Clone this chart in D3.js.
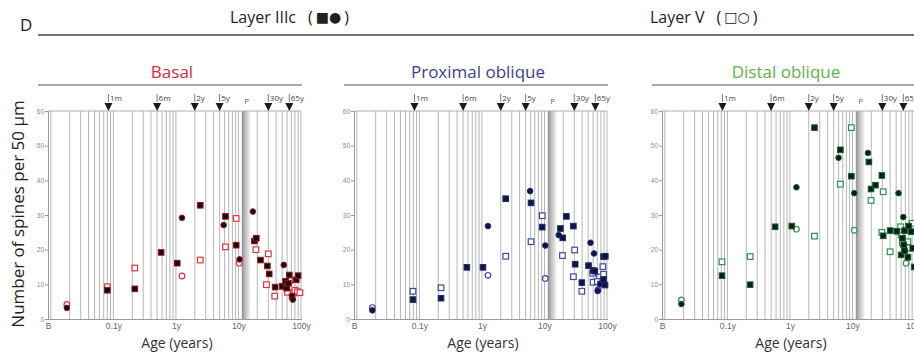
<!DOCTYPE html>
<html>
<head>
<meta charset="utf-8">
<script src="https://cdn.jsdelivr.net/npm/d3@7"></script>
<style>
  body { margin: 0; background: #fff; }
  svg { display: block; font-family: "Open Sans", "Noto Sans", sans-serif; }
</style>
</head>
<body>
<svg id="chart" width="914" height="354"></svg>
<script>
// ---- data (age in years, spines per 50 um) ----
const yTickValues = [0, 10, 20, 30, 40, 50, 60];
const xTickAges = [0.009, 0.1, 1, 10, 100];
const xTickLabels = ['B', '0.1y', '1y', '10y', '100y'];
const milestoneAges = [1 / 12, 0.5, 2, 5, 30, 65];
const milestoneLabels = ['1m', '6m', '2y', '5y', '30y', '65y'];
const pubertyAge = 13.5;

const basalIIIcSquares = [[0.08, 8.3], [0.22, 8.7], [0.58, 19.2], [1.05, 16.1], [2.45, 32.8], [6.2, 29.6],
  [9.2, 21.3], [18, 22.5], [19.3, 23.3], [22.5, 17.0], [29, 15.3], [31, 13.0], [38.6, 9.2], [50, 9.4],
  [56.6, 10.9], [59, 8.9], [63, 10.3], [65, 12.7], [72, 6.5], [84, 11.3], [90, 12.5]];
const basalIIIcCircles = [[0.018, 3.2], [1.25, 29.2], [5.8, 27.1], [10.4, 17.2], [17, 31.0], [53, 15.6], [74, 5.6]];
const basalVSquares = [[0.08, 9.3], [0.22, 14.7], [2.45, 17.0], [6.2, 20.8], [9.2, 29.0], [19, 20.0], [30, 18.8],
  [28, 9.9], [38, 6.6], [61, 7.7], [66, 11.1], [77, 7.5], [80, 8.3], [88, 7.9], [96, 7.6]];
const basalVCircles = [[0.018, 4.2], [1.25, 12.4], [10.3, 16.1]];

const proxIIIcSquares = [[0.079, 5.6], [0.222, 6.0], [0.574, 14.9], [1.04, 14.9], [2.4, 34.7], [6.1, 33.5],
  [9.2, 26.5], [18, 26.1], [19.6, 23.4], [22.4, 29.6], [29, 26.8], [31, 15.8], [39.6, 10.5], [50.6, 15.4],
  [60, 14.0], [64, 13.8], [79, 10.1], [88, 11.4], [88, 18.0], [94, 18.1], [93, 9.8]];
const proxIIIcCircles = [[0.0177, 2.5], [1.25, 26.8], [5.9, 36.9], [10.3, 21.2], [16.9, 24.2], [54.5, 22.0],
  [62, 18.9], [71, 8.1]];
const proxVSquares = [[0.079, 8.0], [0.222, 9.0], [2.4, 18.1], [6.1, 22.3], [9.2, 29.8], [19.4, 18.3],
  [30.4, 19.9], [29, 12.2], [39.6, 8.0], [59, 13.2], [60, 10.6], [76, 12.1], [86, 15.1], [88, 12.9], [70, 10.8]];
const proxVCircles = [[0.0177, 3.3], [1.25, 12.6], [10.3, 11.7], [72, 8.4]];

const distIIIcSquares = [[0.082, 12.5], [0.231, 9.9], [0.58, 26.6], [1.07, 26.8], [2.47, 55.2], [6.4, 48.8],
  [9.6, 41.2], [18.3, 45.3], [19.8, 37.5], [23.3, 38.6], [29.5, 41.4], [31, 24.0], [40, 25.5], [51, 25.3],
  [60, 18.5], [63, 23.3], [66, 21.4], [68, 25.5], [68, 19.7], [77, 17.8], [79, 26.8], [87, 25.2], [92, 20.4], [97, 15.0]];
const distIIIcCircles = [[0.0184, 4.3], [1.27, 38.0], [6.0, 46.5], [10.7, 36.3], [17.7, 47.9], [54.5, 36.3], [65, 29.4]];
const distVSquares = [[0.082, 16.5], [0.231, 18.0], [2.47, 23.9], [6.4, 38.9], [9.6, 55.2], [19.8, 34.2],
  [31, 36.7], [29.5, 25.0], [40, 19.4], [59, 26.6], [60, 24.2], [63, 22.0], [77, 22.3], [80, 20.5], [90, 27.6]];
const distVCircles = [[0.0184, 5.5], [1.27, 25.9], [10.7, 25.6], [72, 16.1]];

// ---- layout ----
const plotTop = 111, plotBottom = 319, plotWidth = 253;
const gridColor = '#aeaeae';

const svg = d3.select('#chart');

const defs = svg.append('defs');
const grad = defs.append('linearGradient').attr('id', 'band').attr('x1', 0).attr('x2', 1);
grad.append('stop').attr('offset', 0).attr('stop-color', '#8e8e8e');
grad.append('stop').attr('offset', 0.4).attr('stop-color', '#bdbdbd');
grad.append('stop').attr('offset', 1).attr('stop-color', '#f3f3f3');

// header
svg.append('text').attr('x', 20).attr('y', 31).style('font-size', '17px').attr('fill', '#222').text('D');
svg.append('line').attr('x1', 38).attr('x2', 914).attr('y1', 35).attr('y2', 35)
  .attr('stroke', '#444').attr('stroke-width', 1.3);

function layerTitle(x, label, symbols) {
  const t = svg.append('text').attr('x', x).attr('y', 23).style('font-size', '16px').attr('fill', '#222');
  t.append('tspan').text(label);
  t.append('tspan').attr('dx', 12).text('(');
  t.append('tspan').attr('dx', 3).style('font-size', '14px').attr('dy', -1)
    .attr('font-family', '"DejaVu Sans", sans-serif').text(symbols);
  t.append('tspan').attr('dx', 3).attr('dy', 1).text(')');
}
layerTitle(230, 'Layer IIIc', '■●');
layerTitle(650, 'Layer V', '□○');

// y axis label
svg.append('text')
  .attr('transform', 'translate(24,214) rotate(-90)')
  .attr('text-anchor', 'middle')
  .style('font-size', '17px')
  .attr('fill', '#222')
  .text('Number of spines per 50 μm');

function drawPanel(left, title, colors, series) {
  const x = d3.scaleLog().domain([0.009, 100]).range([left, left + plotWidth]);
  const y = d3.scaleLinear().domain([0, 60]).range([plotBottom, plotTop]);
  const g = svg.append('g');

  g.append('text')
    .attr('x', left + 124).attr('y', 78)
    .attr('text-anchor', 'middle')
    .style('font-size', '17px')
    .attr('fill', colors.title)
    .text(title);
  g.append('line')
    .attr('x1', left - 10).attr('x2', left + plotWidth + 1)
    .attr('y1', 85).attr('y2', 85)
    .attr('stroke', '#555').attr('stroke-width', 1.2);

  // puberty band
  g.append('rect')
    .attr('x', x(11.3)).attr('width', x(15.5) - x(11.3))
    .attr('y', plotTop).attr('height', plotBottom - plotTop)
    .attr('fill', 'url(#band)');

  // log grid
  const gridAges = x.ticks().filter(d => d > 0.0095);
  g.append('g').selectAll('line')
    .data(gridAges)
    .join('line')
    .attr('x1', d => x(d)).attr('x2', d => x(d))
    .attr('y1', plotTop).attr('y2', plotBottom)
    .attr('stroke', gridColor).attr('stroke-width', 0.9);
  g.append('line')
    .attr('x1', left).attr('x2', left + plotWidth)
    .attr('y1', plotTop).attr('y2', plotTop)
    .attr('stroke', gridColor).attr('stroke-width', 1);

  // axes
  const yAxis = g.append('g')
    .attr('transform', `translate(${left},0)`)
    .call(d3.axisLeft(y).tickValues(yTickValues).tickSize(3).tickPadding(1));
  yAxis.selectAll('text').style('font-size', '6.5px').attr('fill', '#8a8a8a');

  const xAxis = g.append('g')
    .attr('transform', `translate(0,${plotBottom})`)
    .call(d3.axisBottom(x).tickValues(xTickAges).tickFormat((d, i) => xTickLabels[i]).tickSize(1).tickPadding(3));
  xAxis.selectAll('text').style('font-size', '8.5px').attr('fill', '#666');

  [yAxis, xAxis].forEach(a => {
    a.select('.domain').attr('stroke', '#999');
    a.selectAll('.tick line').attr('stroke', '#999');
  });

  g.append('text')
    .attr('x', left + 129).attr('y', 348)
    .attr('text-anchor', 'middle')
    .style('font-size', '14px')
    .attr('fill', '#333')
    .text('Age (years)');

  // milestones
  const ms = g.append('g').selectAll('g')
    .data(milestoneAges)
    .join('g')
    .attr('transform', d => `translate(${x(d)},${plotTop})`);
  ms.append('path').attr('d', 'M-4,-8L4,-8L0,0Z').attr('fill', '#1a1a1a');
  ms.append('line').attr('x1', 0).attr('x2', 0).attr('y1', -17).attr('y2', -9)
    .attr('stroke', '#444').attr('stroke-width', 0.7);
  ms.append('text').attr('x', 1.5).attr('y', -10.5)
    .style('font-size', '8px').attr('fill', '#444')
    .text((d, i) => milestoneLabels[i]);
  g.append('text')
    .attr('x', x(pubertyAge)).attr('y', plotTop - 7)
    .attr('text-anchor', 'middle')
    .style('font-size', '8px').attr('fill', '#666')
    .text('P');

  // markers: layer V (open) first, then layer IIIc (filled)
  const side = 5.6, r = 2.8;
  g.append('g').selectAll('rect')
    .data(series.vSquares).join('rect')
    .attr('x', d => x(d[0]) - side / 2).attr('y', d => y(d[1]) - side / 2)
    .attr('width', side).attr('height', side)
    .attr('fill', '#fff').attr('stroke', colors.open).attr('stroke-width', 1.2);
  g.append('g').selectAll('circle')
    .data(series.vCircles).join('circle')
    .attr('cx', d => x(d[0])).attr('cy', d => y(d[1])).attr('r', r)
    .attr('fill', '#fff').attr('stroke', colors.open).attr('stroke-width', 1.2);
  g.append('g').selectAll('rect')
    .data(series.iiicSquares).join('rect')
    .attr('x', d => x(d[0]) - side / 2).attr('y', d => y(d[1]) - side / 2)
    .attr('width', side).attr('height', side)
    .attr('fill', colors.fill).attr('stroke', colors.edge).attr('stroke-width', 1);
  g.append('g').selectAll('circle')
    .data(series.iiicCircles).join('circle')
    .attr('cx', d => x(d[0])).attr('cy', d => y(d[1])).attr('r', r)
    .attr('fill', colors.fill).attr('stroke', colors.edge).attr('stroke-width', 1);
}

drawPanel(48, 'Basal',
  {title: '#d92b3c', open: '#e0323f', fill: '#1c0606', edge: '#8c1a22'},
  {iiicSquares: basalIIIcSquares, iiicCircles: basalIIIcCircles, vSquares: basalVSquares, vCircles: basalVCircles});
drawPanel(354, 'Proximal oblique',
  {title: '#3b3f93', open: '#3e4b9c', fill: '#0f1540', edge: '#1f2a72'},
  {iiicSquares: proxIIIcSquares, iiicCircles: proxIIIcCircles, vSquares: proxVSquares, vCircles: proxVCircles});
drawPanel(662, 'Distal oblique',
  {title: '#5cb446', open: '#2f8f4e', fill: '#07200f', edge: '#175e32'},
  {iiicSquares: distIIIcSquares, iiicCircles: distIIIcCircles, vSquares: distVSquares, vCircles: distVCircles});
</script>
</body>
</html>
